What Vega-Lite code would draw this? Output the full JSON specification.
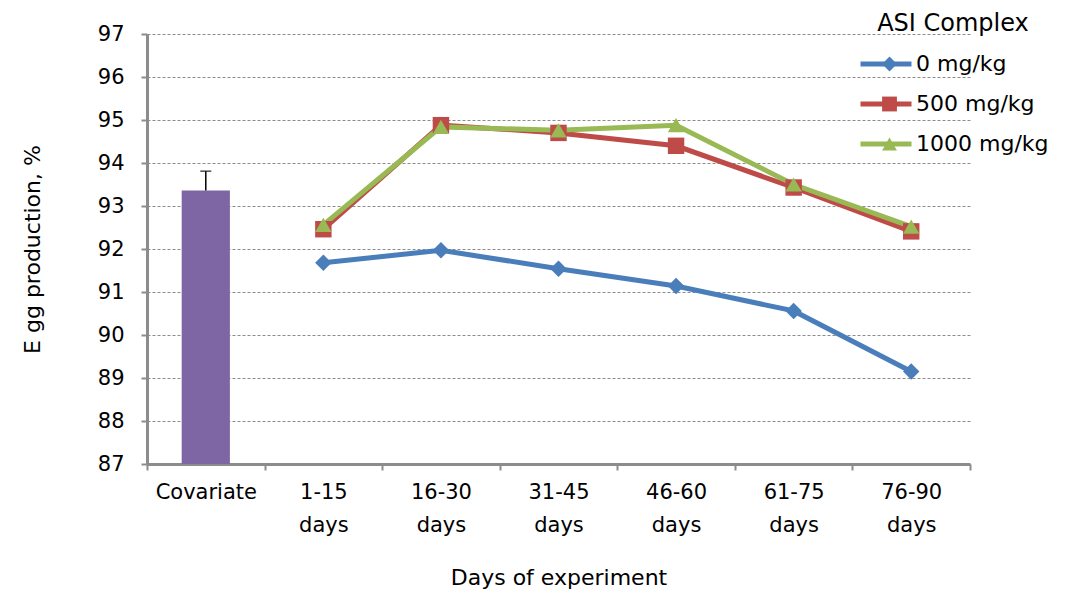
{
  "$schema": "https://vega.github.io/schema/vega-lite/v6.json",
  "width": 823,
  "height": 430,
  "autosize": {"type": "none"},
  "padding": {"left": 147, "top": 34, "right": 95, "bottom": 128},
  "background": "white",
  "config": {
    "font": "DejaVu Sans",
    "view": {"stroke": null},
    "axis": {
      "domainColor": "#8c8c8c",
      "domainWidth": 3,
      "tickColor": "#8c8c8c",
      "tickWidth": 2,
      "tickSize": 6,
      "labelColor": "#000000",
      "titleColor": "#000000",
      "labelFont": "DejaVu Sans",
      "titleFont": "DejaVu Sans",
      "labelFontSize": 21,
      "titleFontSize": 22,
      "titleFontWeight": "normal"
    },
    "legend": {"padding": 0}
  },
  "datasets": {
    "cov": [
      {"period": "Covariate", "value": 93.36, "upper": 93.81}
    ],
    "trend": [
      {"period": "1-15 days", "series": "0 mg/kg", "value": 91.68},
      {"period": "16-30 days", "series": "0 mg/kg", "value": 91.97},
      {"period": "31-45 days", "series": "0 mg/kg", "value": 91.54},
      {"period": "46-60 days", "series": "0 mg/kg", "value": 91.14},
      {"period": "61-75 days", "series": "0 mg/kg", "value": 90.56},
      {"period": "76-90 days", "series": "0 mg/kg", "value": 89.15},
      {"period": "1-15 days", "series": "500 mg/kg", "value": 92.46},
      {"period": "16-30 days", "series": "500 mg/kg", "value": 94.88},
      {"period": "31-45 days", "series": "500 mg/kg", "value": 94.7},
      {"period": "46-60 days", "series": "500 mg/kg", "value": 94.4},
      {"period": "61-75 days", "series": "500 mg/kg", "value": 93.43},
      {"period": "76-90 days", "series": "500 mg/kg", "value": 92.41},
      {"period": "1-15 days", "series": "1000 mg/kg", "value": 92.56},
      {"period": "16-30 days", "series": "1000 mg/kg", "value": 94.84},
      {"period": "31-45 days", "series": "1000 mg/kg", "value": 94.76},
      {"period": "46-60 days", "series": "1000 mg/kg", "value": 94.88},
      {"period": "61-75 days", "series": "1000 mg/kg", "value": 93.5},
      {"period": "76-90 days", "series": "1000 mg/kg", "value": 92.52}
    ]
  },
  "layer": [
    {
      "data": {"name": "cov"},
      "mark": {"type": "bar", "color": "#7d66a3", "width": {"band": 0.41}},
      "encoding": {
        "x": {
          "field": "period",
          "type": "nominal",
          "scale": {
            "domain": ["Covariate", "1-15 days", "16-30 days", "31-45 days", "46-60 days", "61-75 days", "76-90 days"],
            "paddingInner": 0,
            "paddingOuter": 0
          },
          "axis": {
            "title": "Days of experiment",
            "labelAngle": 0,
            "labelExpr": "split(datum.label, ' ')",
            "labelLineHeight": 33,
            "labelPadding": 11,
            "labelBaseline": "top",
            "tickBand": "extent",
            "titlePadding": 32,
            "grid": false
          }
        },
        "y": {
          "field": "value",
          "type": "quantitative",
          "scale": {"domain": [87, 97], "zero": false, "nice": false},
          "axis": {
            "title": "E gg production, %",
            "values": [87, 88, 89, 90, 91, 92, 93, 94, 95, 96, 97],
            "format": "d",
            "labelPadding": 17,
            "titlePadding": 53,
            "grid": true,
            "gridColor": "#8c8c8c",
            "gridDash": [3, 2],
            "gridWidth": 1
          }
        },
        "y2": {"datum": 87}
      }
    },
    {
      "data": {"name": "cov"},
      "mark": {"type": "rule", "color": "#000000", "strokeWidth": 1.5},
      "encoding": {
        "x": {"field": "period", "type": "nominal"},
        "y": {"field": "value", "type": "quantitative"},
        "y2": {"field": "upper"}
      }
    },
    {
      "data": {"name": "cov"},
      "mark": {"type": "tick", "color": "#000000", "thickness": 1.5, "size": 11},
      "encoding": {
        "x": {"field": "period", "type": "nominal"},
        "y": {"field": "upper", "type": "quantitative"}
      }
    },
    {
      "data": {"name": "trend"},
      "mark": {"type": "line", "strokeWidth": 5},
      "encoding": {
        "x": {"field": "period", "type": "nominal"},
        "y": {"field": "value", "type": "quantitative"},
        "stroke": {
          "field": "series",
          "type": "nominal",
          "sort": ["0 mg/kg", "500 mg/kg", "1000 mg/kg"],
          "scale": {"range": ["#4a7ebb", "#be4b48", "#98b954"]},
          "legend": {
            "title": "ASI Complex",
            "orient": "none",
            "legendX": 711,
            "legendY": -22,
            "symbolType": "stroke",
            "symbolStrokeWidth": 5,
            "symbolSize": 2600,
            "clipHeight": 24,
            "rowPadding": 16,
            "labelFontSize": 22,
            "labelOffset": 2,
            "labelColor": "#000000",
            "titleFontSize": 24,
            "titleFontWeight": "normal",
            "titleColor": "#000000",
            "titleAnchor": "middle",
            "titlePadding": 16
          }
        }
      }
    },
    {
      "data": {"name": "trend"},
      "mark": {"type": "point", "filled": true, "opacity": 1, "size": 270, "strokeWidth": 0},
      "encoding": {
        "x": {"field": "period", "type": "nominal"},
        "y": {"field": "value", "type": "quantitative"},
        "fill": {
          "field": "series",
          "type": "nominal",
          "scale": {
            "domain": ["0 mg/kg", "500 mg/kg", "1000 mg/kg"],
            "range": ["#4a7ebb", "#be4b48", "#98b954"]
          },
          "legend": {
            "title": null,
            "orient": "none",
            "legendX": 732,
            "legendY": 18,
            "symbolSize": 220,
            "symbolStrokeWidth": 0,
            "symbolOpacity": 1,
            "clipHeight": 24,
            "rowPadding": 16,
            "labelExpr": "''",
            "labelFontSize": 21
          }
        },
        "shape": {
          "field": "series",
          "type": "nominal",
          "scale": {
            "domain": ["0 mg/kg", "500 mg/kg", "1000 mg/kg"],
            "range": ["diamond", "square", "triangle-up"]
          },
          "legend": {
            "title": null,
            "orient": "none",
            "legendX": 732,
            "legendY": 18,
            "symbolSize": 220,
            "symbolStrokeWidth": 0,
            "symbolOpacity": 1,
            "clipHeight": 24,
            "rowPadding": 16,
            "labelExpr": "''",
            "labelFontSize": 21
          }
        }
      }
    }
  ]
}
